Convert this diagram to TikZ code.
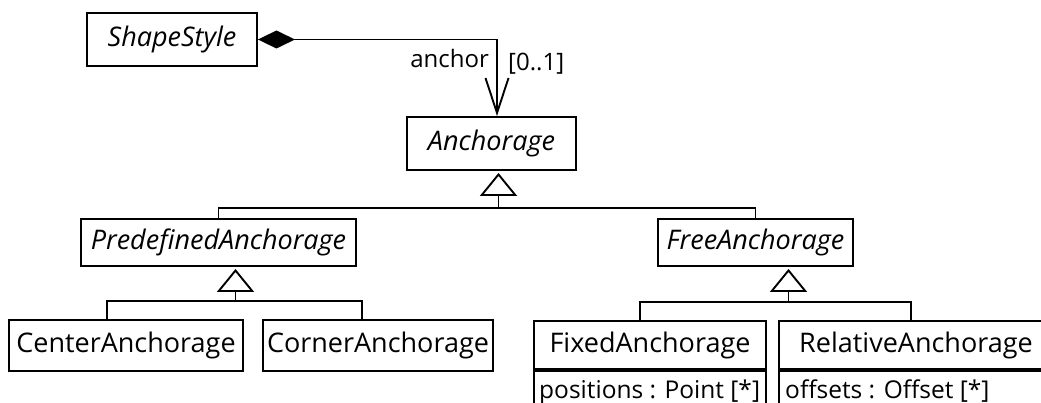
\documentclass[tikz,border=0pt]{standalone}
\usepackage{fontspec}
\setmainfont{Open Sans}
\usetikzlibrary{arrows.meta,calc}
\begin{document}
\begin{tikzpicture}[x=1pt,y=-1pt,
  cls/.style={draw,line width=1.9pt,inner sep=0pt,font=\fontsize{27}{30}\selectfont},
  abscls/.style={cls,font=\fontsize{27}{30}\selectfont\itshape},
  lbl/.style={inner sep=0pt,font=\fontsize{24}{28}\selectfont},
  attr/.style={inner sep=0pt,font=\fontsize{24.5}{28}\selectfont},
  conn/.style={line width=1.9pt},
  gen/.style={conn,-{Triangle[open,length=23pt,width=37pt,line width=1.9pt]},shorten >=2pt}]
\useasboundingbox (0,0) rectangle (1041,403);
\fill[white] (0,0) rectangle (1041,403);
\clip (0,0) rectangle (1041,403);
% classes
\node[abscls,minimum width=170pt,minimum height=53pt] (shape) at (172,39.5) {ShapeStyle};
\node[abscls,minimum width=169pt,minimum height=53pt] (anch) at (491.5,143.5) {Anchorage};
\node[abscls,minimum width=275pt,minimum height=47pt] (pred) at (218.5,242.5) {PredefinedAnchorage};
\node[abscls,minimum width=195pt,minimum height=47pt] (free) at (755.5,242.5) {FreeAnchorage};
\node[cls,minimum width=234pt,minimum height=51pt] (center) at (126,345.5) {CenterAnchorage};
\node[cls,minimum width=230pt,minimum height=51pt] (corner) at (378,345.5) {CornerAnchorage};
\node[cls,minimum width=232pt,minimum height=48pt] (fixh) at (650,345) {FixedAnchorage};
\node[cls,minimum width=232pt,minimum height=61pt,anchor=north] (fixa) at (fixh.south) {};
\node[cls,minimum width=274pt,minimum height=48pt] (relh) at (916,345) {RelativeAnchorage};
\node[cls,minimum width=274pt,minimum height=61pt,anchor=north] (rela) at (relh.south) {};
\node[attr,anchor=base west] (fixat) at (539,398) {positions : Point [*]};
\node[attr,anchor=base west] (relat) at (785,398) {offsets : Offset [*]};
% composition
\coordinate (anchin) at ([xshift=5.5pt]anch.north);
\draw[conn,{Diamond[length=37pt,width=18pt]}-{Straight Barb[length=35pt,width=23pt,line width=1.9pt]}] (shape.east) -| (anchin);
\node[lbl,anchor=east] (rolelbl) at (489,59) {anchor};
\node[lbl,anchor=west] (multlbl) at (508,64) {[0..1]};
% generalizations
\coordinate (j1) at (498.5,208);
\draw[conn] (pred.north) |- (j1) -| (free.north);
\draw[gen] (j1) -- (anch.south -| j1);
\coordinate (j2) at (235.5,301);
\draw[conn] ([xshift=-19pt]center.north) |- (j2) -| ([xshift=-16pt]corner.north);
\draw[gen] (j2) -- (pred.south -| j2);
\coordinate (j3) at (788.5,302);
\draw[conn] ([xshift=-10pt]fixh.north) |- (j3) -| ([xshift=-5pt]relh.north);
\draw[gen] (j3) -- (free.south -| j3);
\end{tikzpicture}
\end{document}
